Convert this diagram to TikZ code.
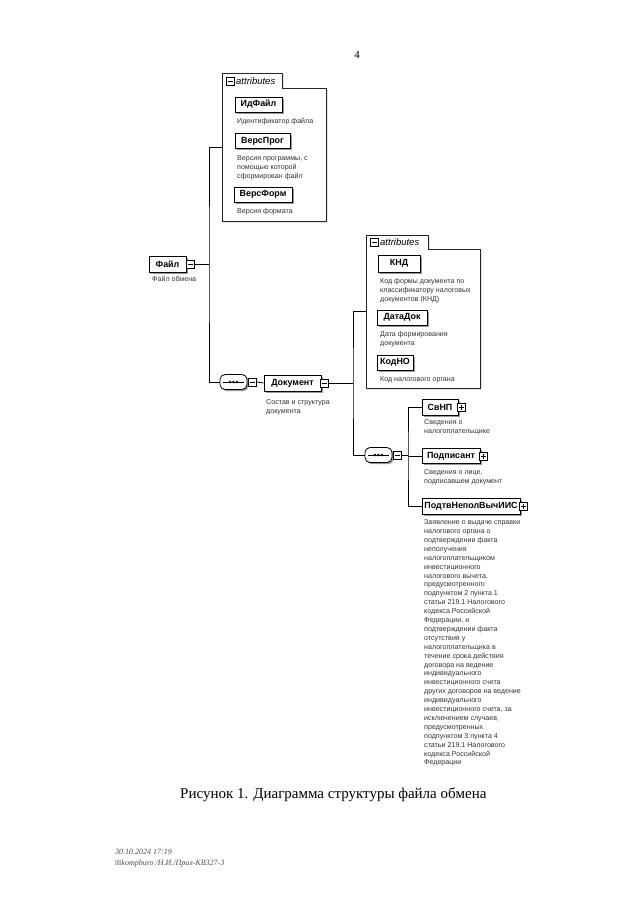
\documentclass[tikz,border=0pt]{standalone}
\usepackage{fontspec}
\setmainfont{Liberation Serif}
\setsansfont{Liberation Sans}
\newfontfamily\symfont{DejaVu Sans}
\usetikzlibrary{shapes.misc,shadows}
\tikzset{
  conn/.style={line width=0.8pt, draw=black},
  elem/.style={draw, line width=0.8pt, fill=white, inner sep=0pt, minimum height=15pt,
    font=\sffamily\bfseries\fontsize{8.9}{10}\selectfont,
    drop shadow={shadow xshift=1.6pt, shadow yshift=-1.6pt, fill=black!40, opacity=1}},
  pmbox/.style={draw, line width=0.6pt, fill=white, minimum size=8pt, inner sep=0pt},
  minusbox/.style={pmbox, path picture={\draw[line width=0.6pt, black]
    ([xshift=1.5pt]path picture bounding box.west) -- ([xshift=-1.5pt]path picture bounding box.east);}},
  plusbox/.style={pmbox, path picture={\draw[line width=0.6pt, black]
    ([xshift=1.5pt]path picture bounding box.west) -- ([xshift=-1.5pt]path picture bounding box.east)
    ([yshift=1.5pt]path picture bounding box.south) -- ([yshift=-1.5pt]path picture bounding box.north);}},
  seqbox/.style={rectangle, rounded corners=5pt, draw, line width=0.8pt, fill=white,
    minimum width=27pt, minimum height=15pt, inner sep=0pt,
    drop shadow={shadow xshift=1.6pt, shadow yshift=-1.6pt, fill=black!40, opacity=1},
    path picture={\draw[line width=0.7pt, black, sharp corners]
      ([xshift=3pt]path picture bounding box.west) -- ([xshift=-3pt]path picture bounding box.east);
      \foreach \d in {-3.6,0,3.6} \fill[black] ([xshift=\d pt]path picture bounding box.center) circle[radius=1.4pt];}},
  frame/.style={draw=black!85, line width=0.6pt, fill=white,
    drop shadow={shadow xshift=1.4pt, shadow yshift=-1.4pt, fill=black!30, opacity=1}},
  attrlbl/.style={font=\sffamily\itshape\fontsize{9.5}{10}\selectfont, inner sep=0pt, anchor=west},
  desc/.style={font=\sffamily\fontsize{7.1}{8.9}\selectfont, text=black!80, align=left,
    anchor=north west, inner sep=0pt},
}
\begin{document}
\begin{tikzpicture}[x=1pt,y=-1pt]
\useasboundingbox (0,0) rectangle (640,900);
\fill[white] (0,0) rectangle (640,900);

% page number
\node[font=\fontsize{11}{13}\selectfont] (pagenum) at (357,55) {4};

% ---------- attributes of Файл ----------
\draw[frame] (222,73) -- (282,73) -- (282,88) -- (326,88) -- (326,221) -- (222,221) -- cycle;
\node[minusbox] (a1m) at (230,81) {};
\node[attrlbl] (a1t) at (236,81) {attributes};
\coordinate (attr1w) at (222,147);

\node[elem, minimum width=47pt] (idf) at (258.5,104.5) {ИдФайл};
\node[desc] (didf) at (237,118.5) {Идентификатор файла};
\node[elem, minimum width=55pt] (versp) at (262.5,141) {ВерсПрог};
\node[desc] (dversp) at (237,155.5) {Версия программы, с\\помощью которой\\сформирован файл};
\node[elem, minimum width=58pt] (versf) at (263,194.5) {ВерсФорм};
\node[desc] (dversf) at (237,208.5) {Версия формата};

% ---------- Файл ----------
\node[elem, minimum width=37pt, minimum height=16pt] (file) at (167.5,264) {Файл};
\node[minusbox, anchor=west] (filem) at (file.east) {};
\node[desc] (dfile) at (152,276.5) {Файл обмена};

\coordinate (j1) at (209,264);
\node[seqbox] (seq1) at (233.5,382) {};
\node[minusbox, anchor=west] (seq1m) at ([xshift=1pt]seq1.east) {};

\draw[conn] (filem.east) -- (j1);
\draw[conn] (attr1w) -| (j1) |- (seq1.west);

% ---------- Документ ----------
\node[elem, minimum width=57pt, minimum height=16pt] (doc) at (292.5,383) {Документ};
\node[minusbox, anchor=west] (docm) at ([xshift=-1pt]doc.east) {};
\node[desc] (ddoc) at (266,399.5) {Состав и структура\\документа};
\draw[conn] (seq1m.east) -- (doc.west);

% ---------- attributes of Документ ----------
\draw[frame] (366,235) -- (428,235) -- (428,249) -- (480,249) -- (480,388) -- (366,388) -- cycle;
\node[minusbox] (a2m) at (374,242) {};
\node[attrlbl] (a2t) at (380,242) {attributes};
\coordinate (attr2w) at (366,311);

\node[elem, minimum width=42pt, minimum height=17pt] (knd) at (399,263.5) {КНД};
\node[desc] (dknd) at (380,278.5) {Код формы документа по\\классификатору налоговых\\документов (КНД)};
\node[elem, minimum width=50pt] (datadok) at (402,317.5) {ДатаДок};
\node[desc] (ddatadok) at (380,331.5) {Дата формирования\\документа};
\node[elem, minimum width=36pt] (kodno) at (395,362.5) {КодНО};
\node[desc] (dkodno) at (380,376.5) {Код налогового органа};

\coordinate (j2) at (353,383);
\node[seqbox] (seq2) at (378.5,455) {};
\node[minusbox, anchor=west] (seq2m) at ([xshift=1pt]seq2.east) {};
\draw[conn] (docm.east) -- (j2);
\draw[conn] (attr2w) -| (j2) |- (seq2.west);

% ---------- children of sequence 2 ----------
\coordinate (j3) at (408,455);
\node[elem, minimum width=36pt, minimum height=16pt] (svnp) at (440,407) {СвНП};
\node[plusbox, anchor=west] (svnpp) at ([xshift=-1pt]svnp.east) {};
\node[desc] (dsvnp) at (424,419.5) {Сведения о\\налогоплательщике};

\node[elem, minimum width=58pt] (podp) at (451,456) {Подписант};
\node[plusbox, anchor=west] (podpp) at ([xshift=-1pt]podp.east) {};
\node[desc] (dpodp) at (424,469.5) {Сведения о лице,\\подписавшем документ};

\node[elem, minimum width=98pt, minimum height=16pt] (podtv) at (471,506) {ПодтвНеполВычИИС};
\node[plusbox, anchor=west] (podtvp) at ([xshift=-1pt]podtv.east) {};
\node[desc] (dpodtv) at (424,519.5) {Заявление о выдаче справки\\налогового органа о\\подтверждении факта\\неполучения\\налогоплательщиком\\инвестиционного\\налогового вычета,\\предусмотренного\\подпунктом 2 пункта 1\\статьи 219.1 Налогового\\кодекса Российской\\Федерации, и\\подтверждении факта\\отсутствия у\\налогоплательщика в\\течение срока действия\\договора на ведение\\индивидуального\\инвестиционного счета\\других договоров на ведение\\индивидуального\\инвестиционного счета, за\\исключением случаев,\\предусмотренных\\подпунктом 3 пункта 4\\статьи 219.1 Налогового\\кодекса Российской\\Федерации};

\draw[conn] (seq2m.east) -- (j3);
\draw[conn] (svnp.west) -| (j3) |- (podtv.west);
\draw[conn] (podp.west) -- (podp.west -| j3);

% ---------- caption and footer ----------
\node[font=\fontsize{15}{18}\selectfont, anchor=base west, inner sep=0pt] (caption) at (180,798)
  {Рисунок 1. Диаграмма структуры файла обмена};
\node[font=\itshape\fontsize{8}{9}\selectfont, text=black!70, anchor=base west, inner sep=0pt] (foot1) at (115,854) {30.10.2024 17:19};
\node[font=\itshape\fontsize{8}{9}\selectfont, text=black!70, anchor=base west, inner sep=0pt] (foot2) at (115,865) {{\symfont\fontsize{7}{8}\selectfont ☒}kompburo /Н.И./Прил-КВ327-3};
\end{tikzpicture}
\end{document}
